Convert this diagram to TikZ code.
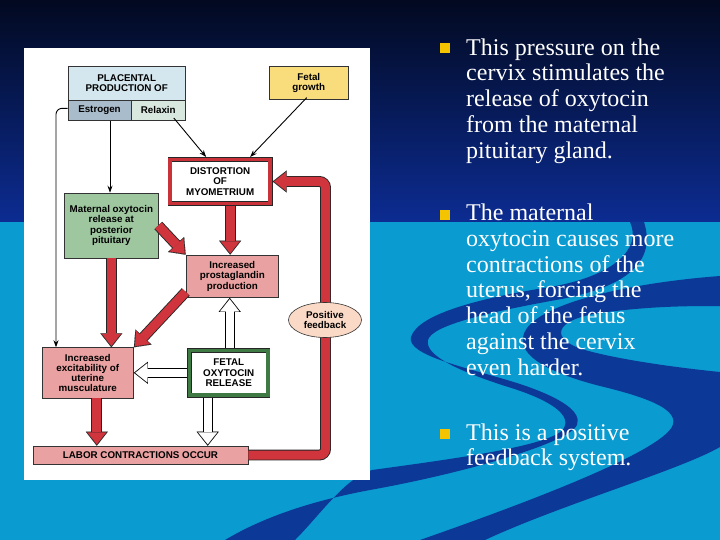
\documentclass[tikz,border=0pt]{standalone}
\usepackage{fontspec}
\setmainfont{Liberation Serif}
\newfontfamily\dsans{Liberation Sans}
\usetikzlibrary{arrows.meta,shapes.geometric,calc}
\definecolor{bgtop}{RGB}{2,9,32}
\definecolor{bgmid}{RGB}{12,44,146}
\definecolor{bglight}{RGB}{10,155,208}
\definecolor{swoosh}{RGB}{12,56,152}
\definecolor{placblue}{RGB}{213,231,238}
\definecolor{estrblue}{RGB}{169,188,203}
\definecolor{relxgreen}{RGB}{217,232,223}
\definecolor{fetyellow}{RGB}{249,220,124}
\definecolor{matgreen}{RGB}{158,199,159}
\definecolor{pinkbox}{RGB}{233,161,161}
\definecolor{fbpeach}{RGB}{250,217,198}
\definecolor{arrred}{RGB}{208,52,60}
\definecolor{framered}{RGB}{200,50,56}
\definecolor{framegreen}{RGB}{63,122,69}
\definecolor{bulletyellow}{RGB}{245,196,0}
\newcommand{\fatarrow}[3][]{\draw[#2out,#1] #3; \draw[#2in,#1] #3;}
\begin{document}
\begin{tikzpicture}[x=1pt,y=-1pt,
  dfont/.style={font=\dsans\bfseries\fontsize{9.8}{10.2}\selectfont},
  box/.style={dfont, draw=black!80, line width=0.6pt, rectangle, inner sep=0pt, align=center},
  frame/.style={dfont, rectangle, inner sep=0pt, align=center, draw=black!85, line width=0.6pt, double=#1, double distance=3.6pt, fill=white, outer sep=2.4pt},
  redout/.style={line width=10.8pt, draw=black!85, -{Triangle[length=14pt,width=22pt,line width=0.1pt]}},
  redin/.style={line width=9pt, draw=arrred, shorten >=1.4pt, -{Triangle[length=12pt,width=19pt,line width=0.1pt]}},
  whiteout/.style={line width=9.8pt, draw=black, -{Triangle[length=14pt,width=22pt,line width=0.1pt]}},
  whitein/.style={line width=8pt, draw=white, shorten >=1.4pt, -{Triangle[length=12pt,width=19pt,line width=0.1pt]}},
  thinarr/.style={draw=black, line width=0.9pt, -{Stealth[length=7pt,width=5pt]}},
  rtext/.style={anchor=north west, inner sep=0pt, align=left, text=white, font=\fontsize{24}{25.8}\selectfont},
  bulletsq/.style={rectangle, fill=bulletyellow, minimum size=10pt, inner sep=0pt}
]
\useasboundingbox (0,0) rectangle (720,540);
% background
\shade[top color=bgtop, bottom color=bgmid] (0,0) rectangle (720,222);
\fill[bglight] (0,222) rectangle (720,540);
\fill[swoosh] (630,222) .. controls (642,248) and (615,276) .. (550,287)
 .. controls (480,298) and (418,314) .. (411,337)
 .. controls (406,356) and (470,368) .. (520,384)
 .. controls (562,398) and (582,412) .. (577,425)
 .. controls (570,442) and (470,472) .. (370,490)
 .. controls (300,503) and (255,522) .. (225,540)
 -- (295,540)
 .. controls (320,515) and (345,478) .. (372,470)
 .. controls (460,458) and (555,445) .. (564,428)
 .. controls (572,413) and (545,398) .. (505,386)
 .. controls (462,372) and (424,356) .. (428,340)
 .. controls (432,325) and (490,312) .. (556,300)
 .. controls (630,287) and (656,260) .. (644,222) -- cycle;
\fill[swoosh] (720,276) .. controls (640,282) and (548,300) .. (527,328)
 .. controls (510,352) and (545,372) .. (600,386)
 .. controls (650,398) and (688,412) .. (668,432)
 .. controls (640,460) and (520,505) .. (420,540)
 -- (485,540) .. controls (560,505) and (680,470) .. (720,447)
 -- (720,372) .. controls (680,368) and (620,360) .. (585,350)
 .. controls (550,340) and (552,320) .. (600,313)
 .. controls (650,306) and (690,306) .. (720,306) -- cycle;
% panel
\fill[white] (24,48) rectangle (370,480);
% boxes
\node[box, fill=placblue, minimum width=117.5pt, minimum height=33.5pt] (plac) at (126.75,83.25) {PLACENTAL\\PRODUCTION OF};
\node[box, fill=estrblue, minimum width=63pt, minimum height=20.7pt] (estr) at (99.5,110.35) {Estrogen};
\node[box, fill=relxgreen, minimum width=54.5pt, minimum height=20.7pt] (relx) at (158.25,110.35) {Relaxin};
\node[box, fill=fetyellow, minimum width=79.5pt, minimum height=32.8pt] (fetg) at (308.75,82.9) {Fetal\\growth};
\node[frame=framered, minimum width=100.2pt, minimum height=44.2pt] (dist) at (220.15,181.5) {DISTORTION\\OF\\MYOMETRIUM};
\node[box, fill=matgreen, minimum width=93.3pt, minimum height=65pt] (mat) at (111.35,225.5) {Maternal oxytocin\\release at\\posterior\\pituitary};
\node[box, fill=pinkbox, minimum width=92.7pt, minimum height=42.6pt] (pros) at (232.35,276.3) {Increased\\prostaglandin\\production};
\node[box, fill=pinkbox, minimum width=91.6pt, minimum height=50.4pt] (exc) at (87.8,372.8) {Increased\\excitability of\\uterine\\musculature};
\node[frame=framegreen, minimum width=78.6pt, minimum height=44.8pt] (foxy) at (228.7,372.8) {FETAL\\OXYTOCIN\\RELEASE};
\node[box, fill=pinkbox, minimum width=215pt, minimum height=18pt] (labor) at (140.5,455) {LABOR CONTRACTIONS OCCUR};
\coordinate (fbc) at (325.5,0);
% thin arrows
\draw[thinarr, rounded corners=6pt] ([yshift=2pt]estr.west) -| ([xshift=-31.8pt]exc.north);
\draw[thinarr] ([xshift=10.5pt]estr.south) -- ([xshift=10.5pt]estr.south |- mat.north);
\draw[thinarr] ([xshift=-12pt,yshift=3pt]relx.south east) -- ([xshift=-14pt]dist.north);
\draw[thinarr] ([xshift=-2pt,yshift=2pt]fetg.south) -- ([xshift=30pt]dist.north);
% red arrows
\fatarrow{red}{([xshift=10pt]dist.south) -- ([xshift=10pt]dist.south |- pros.north)}
\fatarrow{red}{(mat.east) -- (pros.north west)}
\fatarrow{red}{(mat.south) -- (mat.south |- exc.north)}
\fatarrow{red}{([yshift=6pt]pros.south west) -- (exc.north east)}
\fatarrow{red}{([xshift=9pt]exc.south) -- ([xshift=9pt]exc.south |- labor.north)}
\fatarrow[rounded corners=6pt]{red}{(labor.east) -| (fbc |- dist.east) -- (dist.east)}
% white arrows
\fatarrow{white}{([xshift=1pt]foxy.north) -- ([xshift=1pt]foxy.north |- pros.south)}
\fatarrow{white}{(foxy.west) -- (exc.east)}
\fatarrow{white}{([xshift=-21pt]foxy.south) -- ([xshift=-21pt]foxy.south |- labor.north)}
% feedback ellipse
\node[ellipse, dfont, draw=black!80, line width=0.6pt, fill=fbpeach, minimum width=73pt, minimum height=35pt, inner sep=0pt, align=center] (fb) at (325,320) {Positive\\feedback};
% right text
\node[bulletsq] (b1) at (445,48.2) {};
\node[bulletsq] (b2) at (445,215) {};
\node[bulletsq] (b3) at (445,433.8) {};
\node[rtext] (t1) at (466,36.9) {\strut This pressure on the\\cervix stimulates the\\release of oxytocin\\from the maternal\\pituitary gland.};
\node[rtext] (t2) at (466,202.3) {\strut The maternal\\oxytocin causes more\\contractions of the\\uterus, forcing the\\head of the fetus\\against the cervix\\even harder.};
\node[rtext] (t3) at (466,421.9) {\strut This is a positive\\feedback system.};
\end{tikzpicture}
\end{document}
